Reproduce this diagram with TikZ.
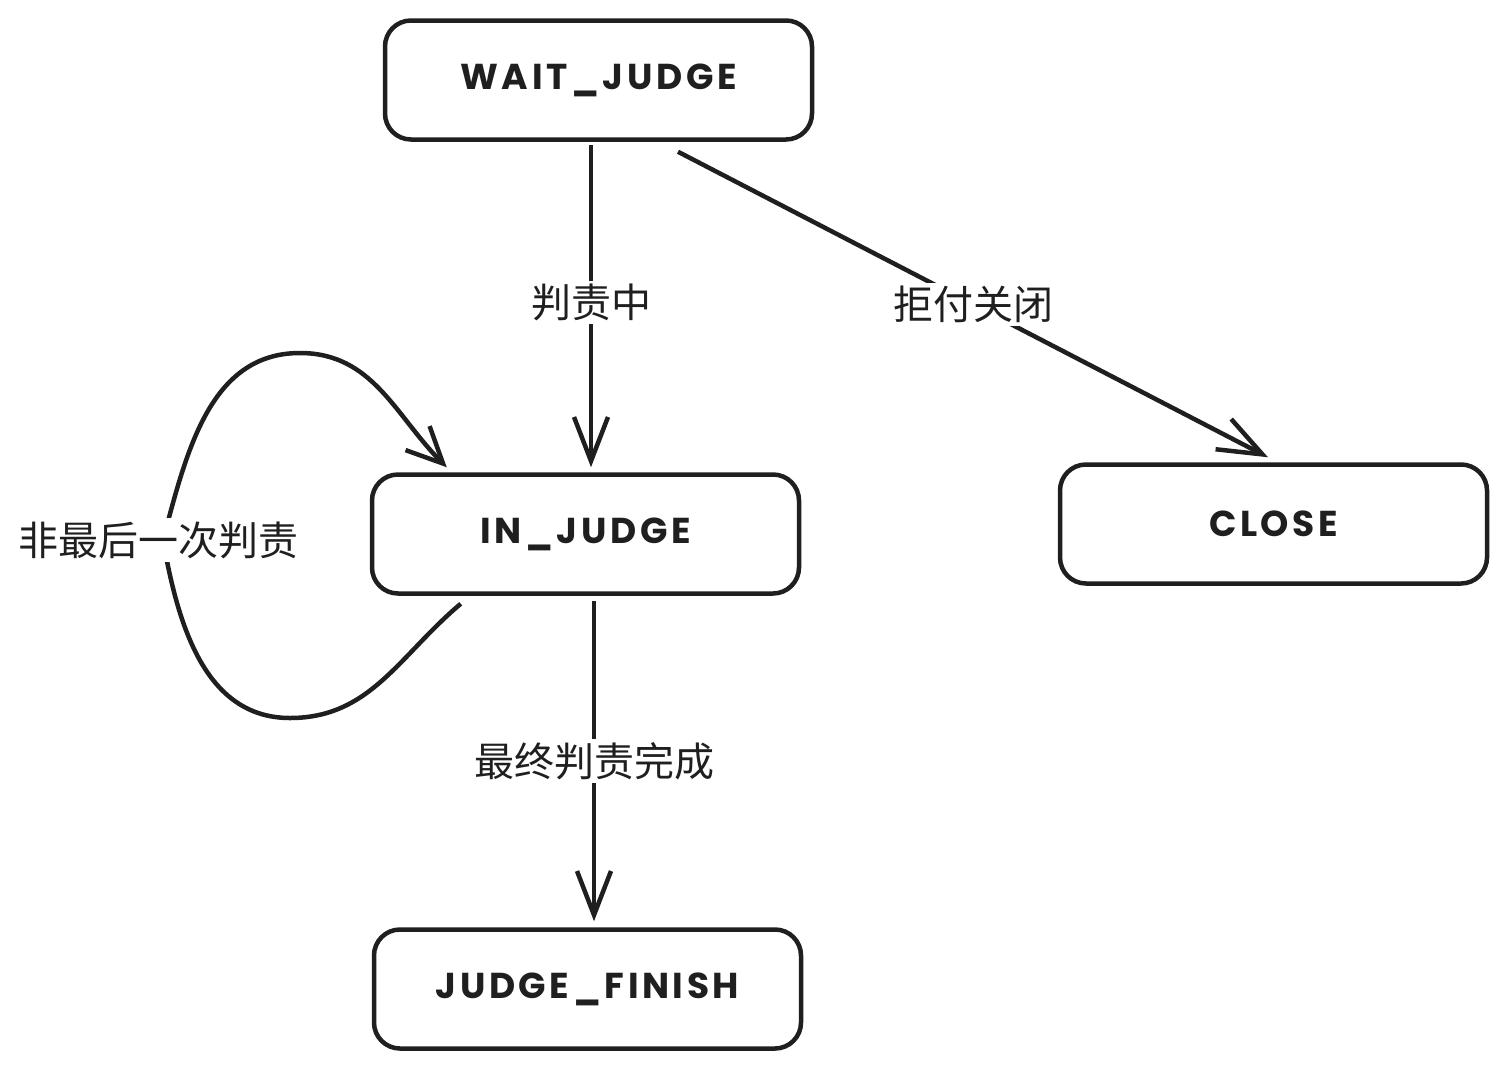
\documentclass[tikz,border=0pt]{standalone}
\usepackage{fontspec}
\newfontfamily\cjk{Noto Sans CJK SC}
\newfontfamily\hand[LetterSpace=10]{Poppins}
\usetikzlibrary{arrows.meta}
\begin{document}
\begin{tikzpicture}[x=1pt,y=-1pt,
  state/.style={draw=black!88, line width=4.5pt, rounded corners=26pt, minimum width=427pt, minimum height=119pt, font=\hand\bfseries\fontsize{36}{38}\selectfont, text=black!88},
  conn/.style={draw=black!88, line width=4.5pt, -{Straight Barb[length=44pt,width=34pt,line width=4.5pt]}},
  lbl/.style={fill=white, inner sep=3pt, font=\cjk\fontsize{40}{42}\selectfont, text=black!88}]
\useasboundingbox (0,0) rectangle (1507,1069);
\node[state] (wait) at (598.5,80) {WAIT\_JUDGE};
\node[state] (injudge) at (585.5,534) {IN\_JUDGE};
\node[state] (close) at (1273.5,524) {CLOSE};
\node[state] (finish) at (587.5,989) {JUDGE\_FINISH};
\draw[conn] ([xshift=-7.5pt,yshift=-3pt]wait.south) -- node[lbl,pos=0.49] {判责中} ([xshift=5.5pt,yshift=5pt]injudge.north);
\draw[conn] ([xshift=79.5pt,yshift=-10pt]wait.south) -- node[lbl,pos=0.5] {拒付关闭} ([xshift=-5.5pt,yshift=5pt]close.north);
\draw[conn] ([xshift=8.5pt,yshift=-5pt]injudge.south) -- node[lbl,pos=0.5] {最终判责完成} ([xshift=6.5pt,yshift=6pt]finish.north);
\draw[conn, -{Straight Barb[length=36pt,width=34pt,line width=4.5pt]}] ([xshift=91pt,yshift=-8pt]injudge.south west) to[out=220,in=0] (290,718) to[out=180,in=280] (163,540) to[out=75,in=180] (300,353) to[out=0,in=135] ([xshift=77pt,yshift=5pt]injudge.north west);
\node[lbl] (looplbl) at (158,540) {非最后一次判责};
\end{tikzpicture}
\end{document}
